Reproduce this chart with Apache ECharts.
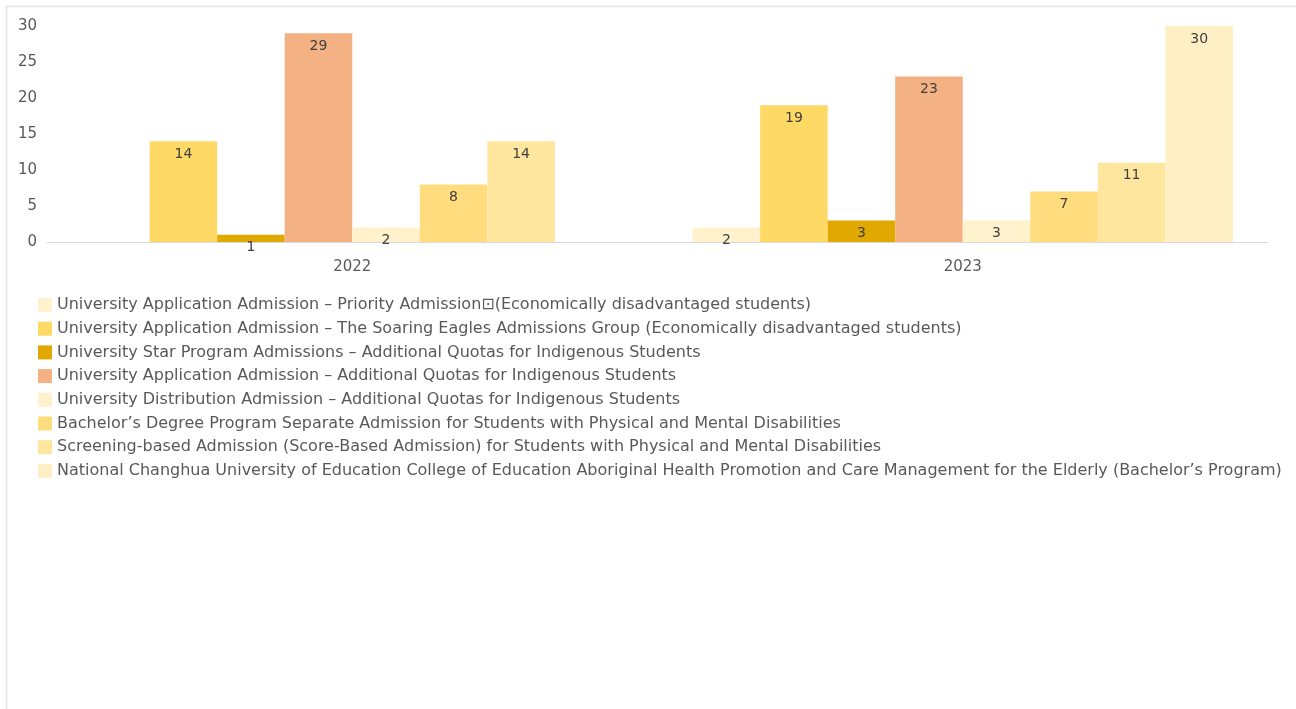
<!DOCTYPE html>
<html>
<head>
<meta charset="utf-8">
<script src="https://cdn.jsdelivr.net/npm/echarts@6/dist/echarts.min.js"></script>
<style>
html,body{margin:0;padding:0;background:#fff;}
#chart{width:1296px;height:709px;}
</style>
</head>
<body>
<div id="chart"></div>
<script>
const categories = ['2022', '2023'];
const seriesNames = [
  'University Application Admission – Priority Admission\u22A1(Economically disadvantaged students)',
  'University Application Admission – The Soaring Eagles Admissions Group (Economically disadvantaged students)',
  'University Star Program Admissions – Additional Quotas for Indigenous Students',
  'University Application Admission – Additional Quotas for Indigenous Students',
  'University Distribution Admission – Additional Quotas for Indigenous Students',
  'Bachelor’s Degree Program Separate Admission for Students with Physical and Mental Disabilities',
  'Screening-based Admission (Score-Based Admission) for Students with Physical and Mental Disabilities',
  'National Changhua University of Education College of Education Aboriginal Health Promotion and Care Management for the Elderly (Bachelor’s Program)'
];
const priorityValues = [null, 2];
const soaringEaglesValues = [14, 19];
const starProgramValues = [1, 3];
const applicationIndigenousValues = [29, 23];
const distributionIndigenousValues = [2, 3];
const bachelorDisabilityValues = [8, 7];
const screeningDisabilityValues = [14, 11];
const changhuaValues = [null, 30];
const yTicks = [0, 5, 10, 15, 20, 25, 30];

const allValues = [priorityValues, soaringEaglesValues, starProgramValues, applicationIndigenousValues,
  distributionIndigenousValues, bachelorDisabilityValues, screeningDisabilityValues, changhuaValues];
const colors = ['#FFF2CC', '#FFD966', '#E0A800', '#F4B183', '#FFF2CC', '#FFDC7E', '#FFE69F', '#FFEFC4'];

const chart = echarts.init(document.getElementById('chart'));
const font = '"DejaVu Sans", sans-serif';
chart.setOption({
  animation: false,
  textStyle: { fontFamily: font },
  graphic: [{
    type: 'rect', silent: true, z: -10,
    shape: { x: 6.5, y: 6.5, width: 1400, height: 800 },
    style: { fill: null, stroke: '#e3e3e3', lineWidth: 1.5 }
  }],
  grid: { left: 47, right: 28, top: 26, height: 216, containLabel: false },
  legend: {
    orient: 'vertical', left: 33, top: 292,
    itemWidth: 14, itemHeight: 14, itemGap: 7.7,
    icon: 'rect',
    textStyle: { fontSize: 16, color: '#595959', fontFamily: font },
    data: seriesNames
  },
  xAxis: {
    type: 'category', data: categories,
    axisLine: { lineStyle: { color: '#d9d9d9', width: 1 } },
    axisTick: { show: false },
    axisLabel: { fontSize: 15, color: '#595959', margin: 18 }
  },
  yAxis: {
    type: 'value', min: yTicks[0], max: yTicks[yTicks.length - 1], interval: 5,
    splitLine: { show: false },
    axisLine: { show: false }, axisTick: { show: false },
    axisLabel: { fontSize: 15, color: '#595959', margin: 10 }
  },
  series: seriesNames.map((name, i) => ({
    name, type: 'bar', data: allValues[i],
    barGap: '0%', barCategoryGap: '11.5%',
    itemStyle: { color: colors[i] },
    label: { show: true, position: 'insideTop', distance: 6, fontSize: 14, color: '#404040' }
  }))
});
</script>
</body>
</html>
